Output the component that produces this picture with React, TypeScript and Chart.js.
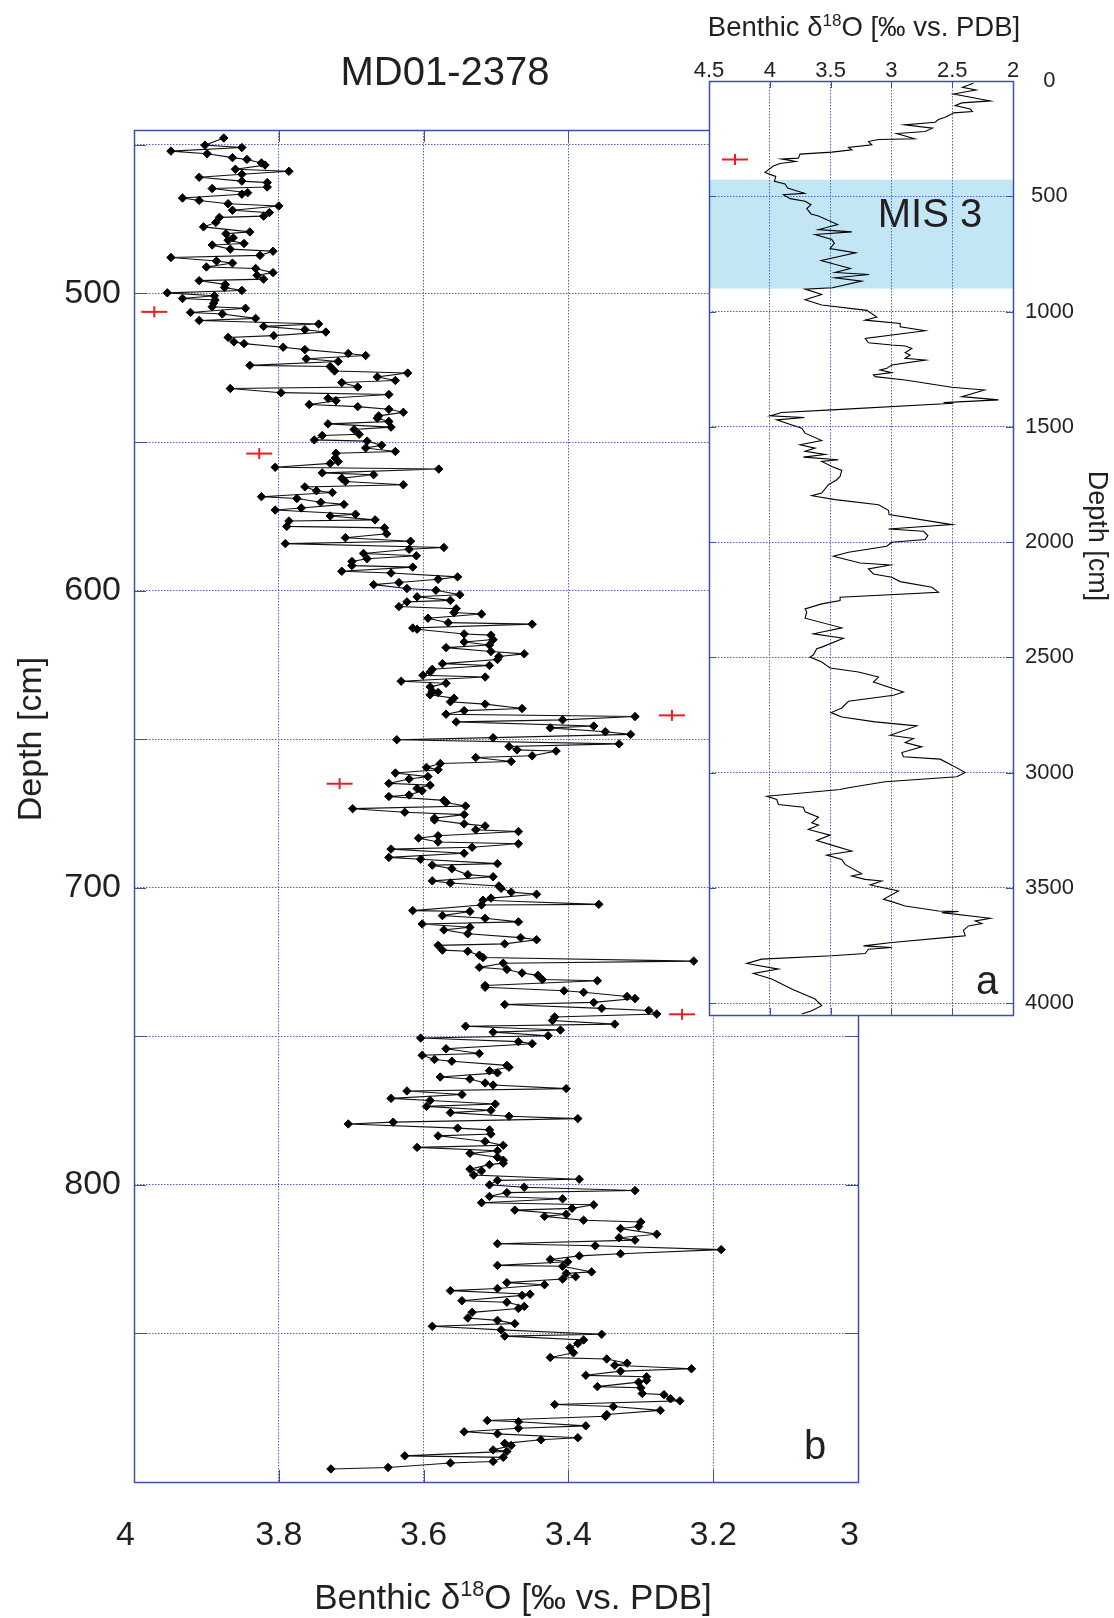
import React, { useEffect, useRef } from 'react';
import { Chart, registerables } from 'chart.js';

Chart.register(...registerables);

const FONT = '"Liberation Sans", Arial, Helvetica, sans-serif';
const INK = '#231f20';
const FRAME = '#3c50a5';
const GRID = '#4f64c4';
const RED = '#ec1c24';
const BAND = '#c3e6f5';

// ---- Panel b: MD01-2378 benthic d18O, 445-900 cm ----
const depthB = [
  447.7, 450.1, 450.9, 452.1, 453.0, 454.3, 454.9, 456.1, 456.8, 458.2, 458.9, 459.9, 460.9, 462.2, 462.7, 464.2, 464.7, 466.1, 466.6, 467.9,
  468.7, 469.8, 470.6, 472.0, 472.8, 474.0, 474.4, 476.1, 477.6, 479.3, 479.9, 481.3, 482.1, 483.2, 483.7, 485.1, 485.8, 487.2, 487.9, 489.1,
  489.8, 491.1, 491.6, 493.0, 493.9, 495.2, 495.7, 497.0, 498.0, 499.0, 499.8, 500.8, 501.7, 502.2, 503.3, 504.5, 505.0, 506.4, 506.9, 508.4,
  509.1, 510.3, 511.1, 512.2, 513.0, 514.2, 514.8, 516.3, 516.9, 518.1, 518.9, 520.2,
  520.9, 522.0, 522.9, 524.2, 524.6, 526.1, 526.8, 528.1, 529.3, 530.0, 531.5, 532.0, 533.4, 534.0, 535.3, 536.1, 537.4, 538.1, 539.0, 540.0,
  541.2, 542.0, 543.1, 543.9, 545.0, 545.8, 547.4, 547.8, 549.3, 549.7, 551.1, 552.0, 553.2, 553.8, 555.4, 556.6, 557.2, 558.5, 559.1, 560.4,
  561.0, 562.2, 563.3, 564.4, 565.1, 566.4, 567.0, 568.4, 569.0, 570.3, 571.0, 572.2, 572.9, 574.3, 574.9, 576.2, 576.6, 578.4, 578.9, 580.9,
  582.2, 583.4, 584.2, 585.5, 586.1, 587.5, 588.3, 589.3, 590.2, 591.6, 592.1, 593.5, 594.1, 595.4, 596.2, 597.3, 598.0,
  599.3, 599.9, 601.4, 602.1, 603.3, 603.8, 605.4, 606.1, 607.4, 607.9, 609.3, 610.8, 611.3, 612.6, 613.0, 614.6, 615.0, 616.5, 617.3, 618.3,
  619.2, 620.5, 621.3, 622.2, 623.2, 624.6, 625.2, 626.5, 627.4, 628.5, 629.1, 630.5, 631.2, 632.4, 633.9, 634.3, 635.1, 636.2, 637.4, 638.2,
  639.7, 640.4, 641.6, 642.4, 643.5, 644.2, 645.6, 646.2, 647.5, 648.4, 649.5, 650.2, 651.6, 652.5, 653.6, 654.0, 655.6, 656.2, 657.5, 658.2,
  659.5, 660.3, 661.4, 662.6, 663.4, 664.9, 665.5, 666.6, 667.4, 668.8, 669.3, 670.6, 671.3, 672.5, 673.4, 674.6, 675.4,
  676.6, 677.2, 678.5, 679.2, 680.5, 681.1, 682.5, 683.3, 684.6, 685.2, 686.4, 687.0, 688.4, 689.8, 690.4, 691.9, 692.4, 693.6, 695.6, 696.3,
  697.7, 698.4, 699.4, 700.2, 701.5, 702.2, 703.5, 704.2, 705.6, 705.8, 707.7, 708.0, 709.4, 710.3, 711.5, 712.2, 713.3, 714.2, 715.5, 716.8,
  717.5, 718.9, 719.4, 721.0, 721.4, 722.7, 723.5, 724.7, 725.4, 726.8, 727.5, 728.7, 729.5, 730.9, 731.3, 732.9, 733.5, 734.7, 735.2, 736.6,
  737.3, 738.6, 739.3, 740.6, 741.3, 742.5, 743.5, 744.7, 745.9, 746.6, 747.9, 748.6, 749.8, 750.6, 751.8, 752.5,
  754.2, 755.8, 756.4, 757.8, 758.4, 759.8, 760.4, 761.6, 762.3, 763.7, 764.4, 765.7, 766.4, 767.6, 768.4, 769.6, 770.9, 771.6, 772.8, 773.6,
  774.9, 775.7, 776.9, 777.7, 778.9, 779.5, 780.9, 781.5, 782.9, 783.5, 785.4, 786.7, 787.4, 788.5, 789.4, 790.7, 791.7, 792.7, 793.2, 794.7,
  795.3, 796.7, 798.1, 798.5, 800.0, 800.8, 801.9, 802.6, 803.9, 804.7, 806.0, 806.7, 807.9, 808.5, 809.9, 810.6, 811.9, 812.5, 814.0, 814.7,
  816.6, 817.8, 818.6, 819.8, 820.5, 821.8, 823.2, 823.9, 825.1, 825.9, 827.1, 827.4,
  829.3, 829.8, 830.9, 831.7, 832.9, 833.6, 834.9, 835.6, 836.8, 837.2, 839.0, 839.5, 840.9, 841.6, 842.9, 844.8, 845.6, 846.7, 847.6, 848.8,
  850.3, 850.9, 852.2, 853.4, 854.8, 856.5, 858.1, 858.6, 860.0, 860.7, 861.9, 862.7, 864.1, 864.6, 865.8, 866.4, 867.9, 868.3, 870.2, 870.6,
  872.0, 872.7, 873.9, 874.6, 875.9, 877.3, 877.9, 879.3, 879.7, 881.1, 881.9, 883.1, 883.8, 885.1, 885.8, 887.0, 887.7, 889.2, 889.7, 891.2,
  891.7, 893.1, 893.6, 895.1, 895.6,
];

const d18OB = [
  3.876, 3.902, 3.851, 3.949, 3.899, 3.864, 3.844, 3.824, 3.819, 3.860, 3.786, 3.851, 3.910, 3.851, 3.816, 3.816, 3.892, 3.843, 3.851, 3.933,
  3.910, 3.870, 3.800, 3.864, 3.813, 3.821, 3.882, 3.887, 3.904, 3.840, 3.873, 3.863, 3.870, 3.848, 3.892, 3.867, 3.808, 3.826, 3.949, 3.886,
  3.864, 3.900, 3.832, 3.808, 3.830, 3.821, 3.910, 3.874, 3.875, 3.851, 3.954, 3.889, 3.933, 3.888, 3.890, 3.892, 3.846, 3.922, 3.878, 3.832,
  3.910, 3.745, 3.821, 3.764, 3.735, 3.807, 3.870, 3.862, 3.848, 3.794, 3.764, 3.704,
  3.680, 3.762, 3.718, 3.840, 3.729, 3.723, 3.622, 3.664, 3.639, 3.713, 3.691, 3.867, 3.797, 3.648, 3.732, 3.721, 3.758, 3.691, 3.648, 3.628,
  3.662, 3.664, 3.648, 3.732, 3.645, 3.696, 3.689, 3.740, 3.751, 3.678, 3.658, 3.680, 3.639, 3.721, 3.722, 3.718, 3.729, 3.805, 3.579, 3.740,
  3.669, 3.713, 3.708, 3.628, 3.764, 3.748, 3.726, 3.824, 3.775, 3.742, 3.710, 3.769, 3.805, 3.694, 3.729, 3.667, 3.786, 3.789, 3.654, 3.651,
  3.708, 3.618, 3.791, 3.572, 3.620, 3.683, 3.610, 3.678, 3.699, 3.699, 3.615, 3.713, 3.645, 3.553, 3.580, 3.634, 3.669,
  3.623, 3.583, 3.550, 3.609, 3.563, 3.623, 3.634, 3.555, 3.558, 3.520, 3.594, 3.566, 3.450, 3.615, 3.609, 3.544, 3.507, 3.504, 3.544, 3.509,
  3.569, 3.507, 3.461, 3.496, 3.498, 3.574, 3.509, 3.588, 3.591, 3.601, 3.515, 3.631, 3.569, 3.591, 3.588, 3.580, 3.591, 3.558, 3.563, 3.515,
  3.464, 3.544, 3.569, 3.308, 3.408, 3.555, 3.365, 3.425, 3.349, 3.314, 3.504, 3.637, 3.330, 3.482, 3.471, 3.417, 3.450, 3.528, 3.479, 3.577,
  3.596, 3.580, 3.639, 3.594, 3.620, 3.648, 3.591, 3.609, 3.602, 3.620, 3.648, 3.572, 3.569, 3.542, 3.698, 3.626, 3.544,
  3.585, 3.585, 3.544, 3.515, 3.528, 3.469, 3.580, 3.607, 3.580, 3.469, 3.533, 3.645, 3.544, 3.648, 3.604, 3.498, 3.588, 3.561, 3.539, 3.504,
  3.588, 3.563, 3.496, 3.493, 3.479, 3.444, 3.507, 3.518, 3.358, 3.520, 3.615, 3.536, 3.574, 3.515, 3.469, 3.602, 3.536, 3.572, 3.539, 3.466,
  3.444, 3.488, 3.580, 3.574, 3.539, 3.523, 3.518, 3.227, 3.490, 3.523, 3.485, 3.464, 3.442, 3.436, 3.360, 3.515, 3.515, 3.406, 3.379, 3.319,
  3.308, 3.365, 3.488, 3.354, 3.289, 3.278, 3.419, 3.422, 3.336, 3.542, 3.411, 3.504, 3.428, 3.604, 3.469, 3.450,
  3.569, 3.523, 3.602, 3.585, 3.561, 3.485, 3.482, 3.509, 3.498, 3.577, 3.536, 3.515, 3.504, 3.403, 3.623, 3.547, 3.645, 3.591, 3.501, 3.596,
  3.507, 3.563, 3.482, 3.387, 3.642, 3.704, 3.553, 3.509, 3.507, 3.580, 3.515, 3.490, 3.609, 3.498, 3.536, 3.498, 3.490, 3.490, 3.509, 3.536,
  3.520, 3.531, 3.385, 3.498, 3.509, 3.461, 3.308, 3.485, 3.509, 3.408, 3.520, 3.365, 3.395, 3.474, 3.403, 3.433, 3.379, 3.300, 3.303, 3.328,
  3.278, 3.330, 3.308, 3.498, 3.363, 3.189, 3.328, 3.385, 3.425, 3.401, 3.498, 3.408,
  3.368, 3.403, 3.390, 3.408, 3.485, 3.433, 3.498, 3.563, 3.453, 3.464, 3.547, 3.485, 3.461, 3.469, 3.533, 3.539, 3.498, 3.474, 3.588, 3.493,
  3.354, 3.488, 3.379, 3.387, 3.398, 3.393, 3.425, 3.347, 3.319, 3.336, 3.230, 3.328, 3.376, 3.292, 3.292, 3.303, 3.360, 3.300, 3.298, 3.268,
  3.259, 3.246, 3.419, 3.338, 3.273, 3.347, 3.349, 3.512, 3.469, 3.376, 3.469, 3.544, 3.498, 3.387, 3.438, 3.488, 3.479, 3.504, 3.485, 3.626,
  3.490, 3.504, 3.563, 3.649, 3.728,
];

// age-control levels (red markers) in panel b
const markerDepthB = [506.2, 553.9, 642.0, 665.0, 742.6];
const markerD18OB = [3.972, 3.827, 3.257, 3.716, 3.243];

// ---- Panel a: full record, 0-4050 cm ----
const depthA = [
  9.9, 27.2, 38.8, 56.1, 86.4, 95.0, 106.5, 121.0, 132.5, 138.3,
  146.9, 158.5, 167.1, 178.6, 190.2, 204.6, 219.0, 227.7, 250.7, 253.6,
  262.3, 276.7, 288.2, 298.3, 308.4, 317.1, 334.4, 338.7, 348.8, 357.5,
  369.0, 396.4, 405.0, 413.7, 435.3, 446.9, 464.2, 487.2, 493.0, 510.3,
  521.8, 536.3, 553.6, 576.6, 585.3, 622.8, 644.4, 654.5, 666.0, 687.7,
  703.5, 726.6, 745.4, 778.5, 790.1, 813.1, 830.4, 839.1, 853.5, 867.9,
  896.8, 902.5, 925.6, 948.7, 971.7, 994.8, 1023.7, 1037.1, 1051.6, 1066.0,
  1083.3, 1116.5, 1135.2, 1145.3, 1149.6, 1159.7, 1178.5, 1188.6, 1203.0, 1210.2,
  1231.8, 1246.2, 1253.4, 1265.0, 1275.1, 1282.3, 1296.7, 1328.4, 1340.0, 1354.4,
  1368.8, 1383.2, 1394.8, 1397.6, 1426.5, 1438.0, 1452.4, 1459.6, 1469.7, 1484.2,
  1505.8, 1527.4, 1559.1, 1577.9, 1592.3, 1606.0, 1620.0, 1631.2, 1642.8, 1650.0,
  1671.6, 1688.9, 1714.9, 1729.3, 1750.9, 1787.0, 1798.5, 1815.8, 1837.5, 1861.8,
  1880.7, 1923.9, 1942.7, 1952.8, 1971.6, 1988.9, 2000.4, 2017.7, 2043.6, 2061.6,
  2090.5, 2099.1, 2116.4, 2138.1, 2152.5, 2171.2, 2195.7, 2217.4, 2239.0, 2253.4,
  2267.8, 2289.5, 2303.9, 2329.8, 2371.7, 2397.6, 2416.4, 2455.3, 2462.5, 2488.5,
  2498.6, 2520.2, 2546.1, 2563.4, 2585.1, 2606.7, 2649.9, 2664.4, 2690.3, 2719.2,
  2739.4, 2758.1, 2779.7, 2797.0, 2837.4, 2851.8, 2869.1, 2887.9, 2912.4, 2931.2,
  2941.2, 2967.2, 2998.9, 3017.7, 3039.3, 3065.3, 3073.1, 3102.0, 3116.4, 3138.0,
  3149.6, 3169.7, 3192.8, 3217.3, 3227.4, 3246.2, 3270.7, 3293.8, 3314.0, 3339.9,
  3357.2, 3376.0, 3397.6, 3438.0, 3448.1, 3462.5, 3469.7, 3487.0, 3513.0, 3549.0,
  3559.1, 3577.8, 3599.5, 3602.3, 3606.7, 3631.2, 3642.7, 3654.3, 3664.4, 3683.1,
  3707.6, 3711.9, 3736.5, 3750.9, 3758.1, 3765.3, 3784.0, 3794.1, 3808.5, 3827.3,
  3851.8, 3870.6, 3895.1, 3938.3, 3981.6, 4010.4, 4032.1, 4046.5,
];

const d18OA = [
  2.325, 2.415, 2.305, 2.489, 2.187, 2.421, 2.475, 2.352, 2.333, 2.489,
  2.517, 2.563, 2.613, 2.640, 2.892, 2.662, 2.722, 2.956, 2.810, 3.106,
  3.189, 3.161, 3.353, 3.326, 3.490, 3.751, 3.765, 3.902, 3.787, 3.916,
  3.971, 4.039, 3.998, 3.951, 3.962, 3.875, 3.853, 3.715, 3.888, 3.833,
  3.710, 3.661, 3.696, 3.661, 3.600, 3.441, 3.600, 3.326, 3.628, 3.490,
  3.469, 3.504, 3.293, 3.578, 3.496, 3.337, 3.463, 3.183, 3.463, 3.244,
  3.485, 3.710, 3.573, 3.710, 3.573, 3.202, 3.120, 3.216, 2.928, 2.928,
  2.722, 3.216, 3.189, 2.997, 2.887, 2.832, 2.887, 2.846, 2.887, 2.722,
  2.997, 3.038, 3.093, 2.997, 3.148, 3.134, 2.887, 2.503, 2.234, 2.325,
  2.421, 2.119, 2.571, 2.489, 3.490, 3.902, 3.998, 3.715, 3.943, 3.861,
  3.737, 3.710, 3.573, 3.751, 3.628, 3.710, 3.545, 3.724, 3.436, 3.573,
  3.490, 3.408, 3.422, 3.449, 3.518, 3.573, 3.655, 3.463, 3.106, 3.024,
  3.019, 2.503, 3.024, 2.736, 2.700, 2.722, 2.997, 3.038, 3.353, 3.477,
  3.257, 3.010, 3.189, 3.148, 2.997, 2.928, 2.667, 2.613, 3.422, 3.422,
  3.573, 3.710, 3.696, 3.710, 3.408, 3.641, 3.394, 3.573, 3.614, 3.641,
  3.669, 3.573, 3.504, 3.271, 3.106, 3.148, 2.901, 2.983, 3.353, 3.408,
  3.496, 3.408, 3.134, 2.791, 3.010, 2.818, 2.887, 2.750, 2.914, 2.901,
  2.599, 2.503, 2.393, 2.462, 3.052, 3.353, 3.422, 4.025, 3.943, 3.929,
  3.724, 3.710, 3.600, 3.655, 3.600, 3.683, 3.504, 3.614, 3.490, 3.326,
  3.532, 3.408, 3.381, 3.244, 3.326, 3.216, 3.079, 3.175, 2.942, 3.065,
  2.997, 2.887, 2.613, 2.448, 2.585, 2.187, 2.311, 2.256, 2.366, 2.407,
  2.393, 2.489, 2.997, 3.230, 2.997, 3.189, 3.216, 3.490, 4.067, 4.190,
  3.929, 4.135, 3.984, 3.820, 3.628, 3.573, 3.655, 3.737,
];

const markerDepthA = [341];
const markerD18OA = [4.286];

// MIS 3 depth interval (cm)
const mis3Top = 428;
const mis3Bottom = 900;

// axis ticks
const xTicksB = [3, 3.2, 3.4, 3.6, 3.8, 4];
const yGridB = [450, 500, 550, 600, 650, 700, 750, 800, 850, 900];
const yLabelsB = [500, 600, 700, 800];
const xTicksA = [2, 2.5, 3, 3.5, 4, 4.5];
const yTicksA = [0, 500, 1000, 1500, 2000, 2500, 3000, 3500, 4000];

const TITLE_X = [
  { t: 'Benthic \u03b4' },
  { t: '18', sup: true },
  { t: 'O [\u2030 vs. PDB]' },
];

const pairs = (ys: number[], xs: number[]) => {
  const n = Math.min(ys.length, xs.length);
  const out: { x: number; y: number }[] = [];
  for (let i = 0; i < n; i++) out.push({ x: xs[i], y: ys[i] });
  return out;
};

// whole numbers are printed flush left of their tick, like the decimals' leading digit
const tickLabel = (v: any) => {
  const n = Number(v);
  return Number.isInteger(n) ? `${n}\u2002` : String(n);
};

function drawRich(ctx: any, segs: any[], cx: number, baseY: number, size: number, rot: number) {
  ctx.save();
  ctx.translate(cx, baseY);
  ctx.rotate(rot);
  ctx.fillStyle = INK;
  ctx.textBaseline = 'alphabetic';
  ctx.textAlign = 'left';
  const widths = segs.map((s) => {
    ctx.font = `${s.sup ? size * 0.62 : size}px ${FONT}`;
    return ctx.measureText(s.t).width;
  });
  const total = widths.reduce((a: number, b: number) => a + b, 0);
  let x = -total / 2;
  segs.forEach((s, i) => {
    ctx.font = `${s.sup ? size * 0.62 : size}px ${FONT}`;
    ctx.fillText(s.t, x, s.sup ? -size * 0.36 : 0);
    x += widths[i];
  });
  ctx.restore();
}

function drawText(ctx: any, text: string, x: number, y: number, size: number) {
  ctx.save();
  ctx.fillStyle = INK;
  ctx.font = `${size}px ${FONT}`;
  ctx.textAlign = 'center';
  ctx.textBaseline = 'alphabetic';
  ctx.fillText(text, x, y);
  ctx.restore();
}

// solid frame with short inward tick marks on all four sides
const frameTicks = (len: number) => ({
  id: 'frameTicks',
  afterDraw(chart: any) {
    const { ctx, chartArea: a, scales } = chart;
    ctx.save();
    ctx.strokeStyle = FRAME;
    ctx.lineWidth = 1;
    ctx.beginPath();
    scales.x.ticks.forEach((t: any) => {
      const px = Math.round(scales.x.getPixelForValue(t.value)) + 0.5;
      ctx.moveTo(px, a.top);
      ctx.lineTo(px, a.top + len);
      ctx.moveTo(px, a.bottom);
      ctx.lineTo(px, a.bottom - len);
    });
    scales.y.ticks.forEach((t: any) => {
      const py = Math.round(scales.y.getPixelForValue(t.value)) + 0.5;
      ctx.moveTo(a.left, py);
      ctx.lineTo(a.left + len, py);
      ctx.moveTo(a.right, py);
      ctx.lineTo(a.right - len, py);
    });
    ctx.stroke();
    ctx.lineWidth = 1.5;
    ctx.strokeRect(Math.round(a.left) + 0.5, Math.round(a.top) + 0.5, Math.round(a.right - a.left), Math.round(a.bottom - a.top));
    ctx.restore();
  },
});

const markerSets = (depths: number[], values: number[]) => [
  {
    data: pairs(depths, values),
    showLine: false,
    pointStyle: 'line',
    pointRadius: 13,
    pointRotation: 0,
    pointBorderColor: RED,
    pointBorderWidth: 2,
    pointBackgroundColor: RED,
  },
  {
    data: pairs(depths, values),
    showLine: false,
    pointStyle: 'line',
    pointRadius: 5.5,
    pointRotation: 90,
    pointBorderColor: RED,
    pointBorderWidth: 2,
    pointBackgroundColor: RED,
  },
];

const gridOpts = { color: GRID, lineWidth: 1, drawTicks: false };
const borderOpts = { display: false, dash: [1.5, 1.5] };

function mainConfig(): any {
  return {
    type: 'scatter',
    data: {
      datasets: [
        ...markerSets(markerDepthB, markerD18OB),
        {
          data: pairs(depthB, d18OB),
          showLine: true,
          borderColor: '#111',
          borderWidth: 1.1,
          pointStyle: 'rectRot',
          pointRadius: 4.2,
          pointBackgroundColor: '#000',
          pointBorderColor: '#000',
          pointBorderWidth: 1,
        },
      ],
    },
    options: {
      responsive: false,
      animation: false,
      devicePixelRatio: 1,
      events: [],
      layout: { padding: { left: 0, right: 256, top: 130, bottom: 0 } },
      plugins: { legend: { display: false }, tooltip: { enabled: false } },
      scales: {
        x: {
          type: 'linear',
          position: 'bottom',
          reverse: true,
          min: 3,
          max: 4,
          afterBuildTicks: (s: any) => {
            s.ticks = xTicksB.map((v) => ({ value: v }));
          },
          afterFit: (s: any) => {
            s.height = 136;
          },
          ticks: {
            font: { family: FONT, size: 34 },
            color: INK,
            padding: 33,
            autoSkip: false,
            maxRotation: 0,
            callback: tickLabel,
          },
          grid: gridOpts,
          border: borderOpts,
        },
        y: {
          type: 'linear',
          position: 'left',
          reverse: true,
          min: 445,
          max: 900,
          afterBuildTicks: (s: any) => {
            s.ticks = yGridB.map((v) => ({ value: v }));
          },
          afterFit: (s: any) => {
            s.width = 134;
          },
          ticks: {
            font: { family: FONT, size: 34 },
            color: INK,
            padding: 13,
            autoSkip: false,
            callback: (v: any) => (yLabelsB.includes(Number(v)) ? String(v) : ''),
          },
          grid: gridOpts,
          border: borderOpts,
        },
      },
    },
    plugins: [
      frameTicks(12),
      {
        id: 'mainText',
        afterDraw(chart: any) {
          const ctx = chart.ctx;
          drawText(ctx, 'MD01-2378', 445, 85, 40);
          drawRich(ctx, TITLE_X, 513, 1609, 35, 0);
          drawRich(ctx, [{ t: 'Depth [cm]' }], 41, 739, 34, -Math.PI / 2);
          drawText(ctx, 'b', 815, 1459, 40);
        },
      },
    ],
  };
}

function insetConfig(): any {
  return {
    type: 'scatter',
    data: {
      datasets: [
        ...markerSets(markerDepthA, markerD18OA),
        {
          data: pairs(depthA, d18OA),
          showLine: true,
          borderColor: '#000',
          borderWidth: 1.1,
          pointRadius: 0,
        },
      ],
    },
    options: {
      responsive: false,
      animation: false,
      devicePixelRatio: 1,
      events: [],
      layout: { padding: { left: 69, right: 0, top: 0, bottom: 22 } },
      plugins: { legend: { display: false }, tooltip: { enabled: false } },
      scales: {
        x: {
          type: 'linear',
          position: 'top',
          reverse: true,
          min: 2,
          max: 4.5,
          afterBuildTicks: (s: any) => {
            s.ticks = xTicksA.map((v) => ({ value: v }));
          },
          afterFit: (s: any) => {
            s.height = 81;
          },
          ticks: {
            font: { family: FONT, size: 22 },
            color: INK,
            padding: -3,
            autoSkip: false,
            maxRotation: 0,
            callback: (v: any) => String(Number(v)),
          },
          grid: gridOpts,
          border: borderOpts,
        },
        y: {
          type: 'linear',
          position: 'right',
          reverse: true,
          min: 0,
          max: 4050,
          afterBuildTicks: (s: any) => {
            s.ticks = yTicksA.map((v) => ({ value: v }));
          },
          afterFit: (s: any) => {
            s.width = 101;
          },
          ticks: {
            font: { family: FONT, size: 22 },
            color: INK,
            padding: 12,
            crossAlign: 'center',
            autoSkip: false,
            callback: (v: any) => String(v),
          },
          grid: gridOpts,
          border: borderOpts,
        },
      },
    },
    plugins: [
      {
        id: 'insetBackground',
        beforeDraw(chart: any) {
          const { ctx, chartArea: a, scales } = chart;
          ctx.save();
          ctx.fillStyle = '#ffffff';
          ctx.fillRect(a.left, a.top, a.right - a.left, a.bottom - a.top);
          const y0 = scales.y.getPixelForValue(mis3Top);
          const y1 = scales.y.getPixelForValue(mis3Bottom);
          ctx.fillStyle = BAND;
          ctx.fillRect(a.left, y0, a.right - a.left, y1 - y0);
          ctx.restore();
        },
      },
      frameTicks(7),
      {
        id: 'insetText',
        afterDraw(chart: any) {
          const ctx = chart.ctx;
          drawText(ctx, 'MIS 3', 290, 227, 40);
          drawText(ctx, 'a', 347, 994, 40);
          drawRich(ctx, TITLE_X, 224, 36, 27.5, 0);
          drawRich(ctx, [{ t: 'Depth [cm]' }], 449, 536, 27, Math.PI / 2);
        },
      },
    ],
  };
}

export default function App() {
  const mainRef = useRef<HTMLCanvasElement>(null);
  const insetRef = useRef<HTMLCanvasElement>(null);

  useEffect(() => {
    const main = new Chart(mainRef.current as HTMLCanvasElement, mainConfig());
    const inset = new Chart(insetRef.current as HTMLCanvasElement, insetConfig());
    return () => {
      main.destroy();
      inset.destroy();
    };
  }, []);

  return (
    <div style={{ position: 'absolute', left: 0, top: 0, width: 1114, height: 1618, background: '#fff', overflow: 'hidden' }}>
      <canvas
        ref={mainRef}
        width={1114}
        height={1618}
        style={{ position: 'absolute', left: 0, top: 0, width: 1114, height: 1618 }}
      />
      <canvas
        ref={insetRef}
        width={474}
        height={1040}
        style={{ position: 'absolute', left: 640, top: 0, width: 474, height: 1040 }}
      />
    </div>
  );
}
